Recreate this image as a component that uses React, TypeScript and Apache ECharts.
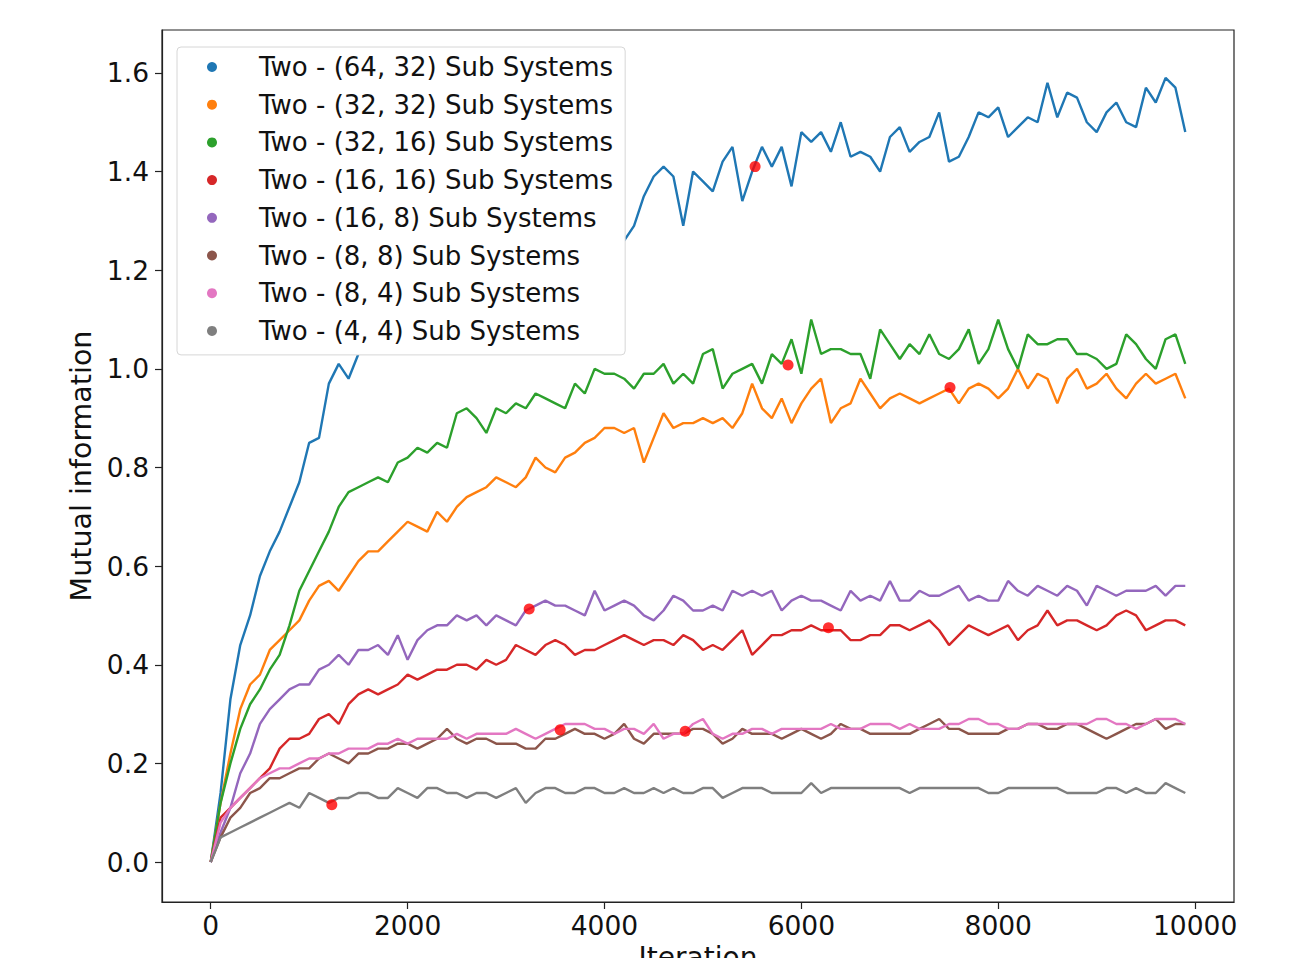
import React, { useEffect, useRef } from "react";
import * as echarts from "echarts";

const iterations: number[] = Array.from({ length: 100 }, (_, i) => i * 100);

const seriesNames = [
  "Two - (64, 32) Sub Systems",
  "Two - (32, 32) Sub Systems",
  "Two - (32, 16) Sub Systems",
  "Two - (16, 16) Sub Systems",
  "Two - (16, 8) Sub Systems",
  "Two - (8, 8) Sub Systems",
  "Two - (8, 4) Sub Systems",
  "Two - (4, 4) Sub Systems",
];

const colors = ["#1f77b4", "#ff7f0e", "#2ca02c", "#d62728", "#9467bd", "#8c564b", "#e377c2", "#7f7f7f"];

const blue64x32 = [
  0.0, 0.14, 0.33, 0.44, 0.5, 0.58, 0.63, 0.67, 0.72, 0.77,
  0.85, 0.86, 0.97, 1.01, 0.98, 1.03, 1.05, 1.07, 1.06, 1.09,
  1.11, 1.1, 1.13, 1.14, 1.13, 1.16, 1.17, 1.16, 1.18, 1.19,
  1.18, 1.21, 1.2, 1.22, 1.23, 1.21, 1.24, 1.25, 1.23, 1.26,
  1.25, 1.27, 1.26, 1.29, 1.35, 1.39, 1.41, 1.39, 1.29, 1.4,
  1.38, 1.36, 1.42, 1.45, 1.34, 1.4, 1.45, 1.41, 1.45, 1.37,
  1.48, 1.46, 1.48, 1.44, 1.5, 1.43, 1.44, 1.43, 1.4, 1.47,
  1.49, 1.44, 1.46, 1.47, 1.52, 1.42, 1.43, 1.47, 1.52, 1.51,
  1.53, 1.47, 1.49, 1.51, 1.5, 1.58, 1.51, 1.56, 1.55, 1.5,
  1.48, 1.52, 1.54, 1.5, 1.49, 1.57, 1.54, 1.59, 1.57, 1.48,
];

const orange32x32 = [
  0.0, 0.12, 0.22, 0.31, 0.36, 0.38, 0.43, 0.45, 0.47, 0.49,
  0.53, 0.56, 0.57, 0.55, 0.58, 0.61, 0.63, 0.63, 0.65, 0.67,
  0.69, 0.68, 0.67, 0.71, 0.69, 0.72, 0.74, 0.75, 0.76, 0.78,
  0.77, 0.76, 0.78, 0.82, 0.8, 0.79, 0.82, 0.83, 0.85, 0.86,
  0.88, 0.88, 0.87, 0.88, 0.81, 0.86, 0.91, 0.88, 0.89, 0.89,
  0.9, 0.89, 0.9, 0.88, 0.91, 0.97, 0.92, 0.9, 0.94, 0.89,
  0.93, 0.96, 0.98, 0.89, 0.92, 0.93, 0.98, 0.95, 0.92, 0.94,
  0.95, 0.94, 0.93, 0.94, 0.95, 0.96, 0.93, 0.96, 0.97, 0.96,
  0.94, 0.96, 1.0, 0.96, 0.99, 0.98, 0.93, 0.98, 1.0, 0.96,
  0.97, 0.99, 0.96, 0.94, 0.97, 0.99, 0.97, 0.98, 0.99, 0.94,
];

const green32x16 = [
  0.0, 0.12, 0.2, 0.27, 0.32, 0.35, 0.39, 0.42, 0.48, 0.55,
  0.59, 0.63, 0.67, 0.72, 0.75, 0.76, 0.77, 0.78, 0.77, 0.81,
  0.82, 0.84, 0.83, 0.85, 0.84, 0.91, 0.92, 0.9, 0.87, 0.92,
  0.91, 0.93, 0.92, 0.95, 0.94, 0.93, 0.92, 0.97, 0.95, 1.0,
  0.99, 0.99, 0.98, 0.96, 0.99, 0.99, 1.01, 0.97, 0.99, 0.97,
  1.03, 1.04, 0.96, 0.99, 1.0, 1.01, 0.97, 1.03, 1.01, 1.06,
  0.99, 1.1, 1.03, 1.04, 1.04, 1.03, 1.03, 0.98, 1.08, 1.05,
  1.02, 1.05, 1.03, 1.07, 1.03, 1.02, 1.04, 1.08, 1.01, 1.04,
  1.1, 1.04, 1.0, 1.07, 1.05, 1.05, 1.06, 1.06, 1.03, 1.03,
  1.02, 1.0, 1.01, 1.07, 1.05, 1.02, 1.0, 1.06, 1.07, 1.01,
];

const red16x16 = [
  0.0, 0.09, 0.11, 0.13, 0.15, 0.17, 0.19, 0.23, 0.25, 0.25,
  0.26, 0.29, 0.3, 0.28, 0.32, 0.34, 0.35, 0.34, 0.35, 0.36,
  0.38, 0.37, 0.38, 0.39, 0.39, 0.4, 0.4, 0.39, 0.41, 0.4,
  0.41, 0.44, 0.43, 0.42, 0.44, 0.45, 0.44, 0.42, 0.43, 0.43,
  0.44, 0.45, 0.46, 0.45, 0.44, 0.45, 0.45, 0.44, 0.46, 0.45,
  0.43, 0.44, 0.43, 0.45, 0.47, 0.42, 0.44, 0.46, 0.46, 0.47,
  0.47, 0.48, 0.47, 0.47, 0.47, 0.45, 0.45, 0.46, 0.46, 0.48,
  0.48, 0.47, 0.48, 0.49, 0.47, 0.44, 0.46, 0.48, 0.47, 0.46,
  0.47, 0.48, 0.45, 0.47, 0.48, 0.51, 0.48, 0.49, 0.49, 0.48,
  0.47, 0.48, 0.5, 0.51, 0.5, 0.47, 0.48, 0.49, 0.49, 0.48,
];

const purple16x8 = [
  0.0, 0.06, 0.11, 0.18, 0.22, 0.28, 0.31, 0.33, 0.35, 0.36,
  0.36, 0.39, 0.4, 0.42, 0.4, 0.43, 0.43, 0.44, 0.42, 0.46,
  0.41, 0.45, 0.47, 0.48, 0.48, 0.5, 0.49, 0.5, 0.48, 0.5,
  0.49, 0.48, 0.51, 0.52, 0.53, 0.52, 0.52, 0.51, 0.5, 0.55,
  0.51, 0.52, 0.53, 0.52, 0.5, 0.49, 0.51, 0.54, 0.53, 0.51,
  0.51, 0.52, 0.51, 0.55, 0.54, 0.55, 0.54, 0.55, 0.51, 0.53,
  0.54, 0.53, 0.53, 0.52, 0.51, 0.55, 0.53, 0.54, 0.53, 0.57,
  0.53, 0.53, 0.55, 0.54, 0.54, 0.55, 0.56, 0.53, 0.54, 0.53,
  0.53, 0.57, 0.55, 0.54, 0.56, 0.55, 0.54, 0.56, 0.55, 0.52,
  0.56, 0.55, 0.54, 0.55, 0.55, 0.55, 0.56, 0.54, 0.56, 0.56,
];

const brown8x8 = [
  0.0, 0.05, 0.09, 0.11, 0.14, 0.15, 0.17, 0.17, 0.18, 0.19,
  0.19, 0.21, 0.22, 0.21, 0.2, 0.22, 0.22, 0.23, 0.23, 0.24,
  0.24, 0.23, 0.24, 0.25, 0.27, 0.25, 0.24, 0.25, 0.25, 0.24,
  0.24, 0.24, 0.23, 0.23, 0.25, 0.25, 0.26, 0.27, 0.26, 0.26,
  0.25, 0.26, 0.28, 0.25, 0.24, 0.26, 0.26, 0.26, 0.26, 0.27,
  0.27, 0.26, 0.24, 0.25, 0.27, 0.26, 0.26, 0.26, 0.25, 0.26,
  0.27, 0.26, 0.25, 0.26, 0.28, 0.27, 0.27, 0.26, 0.26, 0.26,
  0.26, 0.26, 0.27, 0.28, 0.29, 0.27, 0.27, 0.26, 0.26, 0.26,
  0.26, 0.27, 0.27, 0.28, 0.28, 0.27, 0.27, 0.28, 0.28, 0.27,
  0.26, 0.25, 0.26, 0.27, 0.28, 0.28, 0.29, 0.27, 0.28, 0.28,
];

const pink8x4 = [
  0.0, 0.08, 0.11, 0.13, 0.15, 0.17, 0.18, 0.19, 0.19, 0.2,
  0.21, 0.21, 0.22, 0.22, 0.23, 0.23, 0.23, 0.24, 0.24, 0.25,
  0.24, 0.25, 0.25, 0.25, 0.25, 0.26, 0.25, 0.26, 0.26, 0.26,
  0.26, 0.27, 0.26, 0.25, 0.26, 0.27, 0.28, 0.28, 0.28, 0.27,
  0.27, 0.26, 0.27, 0.27, 0.26, 0.28, 0.25, 0.26, 0.26, 0.28,
  0.29, 0.26, 0.25, 0.26, 0.26, 0.27, 0.27, 0.26, 0.27, 0.27,
  0.27, 0.27, 0.27, 0.28, 0.27, 0.27, 0.27, 0.28, 0.28, 0.28,
  0.27, 0.28, 0.27, 0.27, 0.27, 0.28, 0.28, 0.29, 0.29, 0.28,
  0.28, 0.27, 0.27, 0.28, 0.28, 0.28, 0.28, 0.28, 0.28, 0.28,
  0.29, 0.29, 0.28, 0.28, 0.27, 0.28, 0.29, 0.29, 0.29, 0.28,
];

const gray4x4 = [
  0.0, 0.05, 0.06, 0.07, 0.08, 0.09, 0.1, 0.11, 0.12, 0.11,
  0.14, 0.13, 0.12, 0.13, 0.13, 0.14, 0.14, 0.13, 0.13, 0.15,
  0.14, 0.13, 0.15, 0.15, 0.14, 0.14, 0.13, 0.14, 0.14, 0.13,
  0.14, 0.15, 0.12, 0.14, 0.15, 0.15, 0.14, 0.14, 0.15, 0.15,
  0.14, 0.14, 0.15, 0.14, 0.14, 0.15, 0.14, 0.15, 0.14, 0.14,
  0.15, 0.15, 0.13, 0.14, 0.15, 0.15, 0.15, 0.14, 0.14, 0.14,
  0.14, 0.16, 0.14, 0.15, 0.15, 0.15, 0.15, 0.15, 0.15, 0.15,
  0.15, 0.14, 0.15, 0.15, 0.15, 0.15, 0.15, 0.15, 0.15, 0.14,
  0.14, 0.15, 0.15, 0.15, 0.15, 0.15, 0.15, 0.14, 0.14, 0.14,
  0.14, 0.15, 0.15, 0.14, 0.15, 0.14, 0.14, 0.16, 0.15, 0.14,
];

const allValues = [blue64x32, orange32x32, green32x16, red16x16, purple16x8, brown8x8, pink8x4, gray4x4];

// highlighted points (red dots)
const markIterations = [1230, 3235, 3550, 4820, 5530, 5865, 6275, 7510];
const markValues = [0.116, 0.513, 0.268, 0.265, 1.41, 1.008, 0.475, 0.962];

const xTicks = [0, 2000, 4000, 6000, 8000, 10000];
const yTicks = [0, 0.2, 0.4, 0.6, 0.8, 1.0, 1.2, 1.4, 1.6];

const FONT = "DejaVu Sans";

export default function App() {
  const ref = useRef<HTMLDivElement>(null);

  useEffect(() => {
    if (!ref.current) return;
    const chart = echarts.init(ref.current, null, { renderer: "svg" });

    const lineSeries = allValues.map((vals, si) => ({
      name: seriesNames[si],
      type: "line",
      data: iterations.map((it, i) => [it, vals[i]]),
      showSymbol: false,
      symbol: "none",
      lineStyle: { color: colors[si], width: 2.4 },
      itemStyle: { color: colors[si] },
      z: 2 + si * 0.01,
      silent: true,
    }));

    const dotSeries = {
      name: "marks",
      type: "scatter",
      data: markIterations.map((it, i) => [it, markValues[i]]),
      symbol: "circle",
      symbolSize: 11,
      itemStyle: { color: "#ff0000" },
      z: 3,
      silent: true,
    };

    chart.setOption({
      animation: false,
      backgroundColor: "#ffffff",
      grid: {
        left: 162,
        top: 30,
        width: 1072,
        height: 872,
        show: true,
        borderColor: "#222",
        borderWidth: 1.2,
        backgroundColor: "transparent",
        containLabel: false,
        outerBoundsMode: "none",
      },
      legend: {
        orient: "vertical",
        left: 177,
        top: 47,
        padding: [5, 12, 9, 30],
        itemWidth: 10,
        itemHeight: 10,
        itemGap: 7.7,
        icon: "circle",
        backgroundColor: "#ffffff",
        borderColor: "#d6d6d6",
        borderWidth: 1,
        borderRadius: 4,
        selectedMode: false,
        textStyle: {
          fontSize: 26,
          fontFamily: FONT,
          color: "#111",
          lineHeight: 30,
          padding: [0, 0, 0, 37],
        },
        data: seriesNames,
        z: 10,
      },
      xAxis: {
        type: "value",
        min: -495,
        max: 10395,
        name: "Iteration",
        nameLocation: "middle",
        nameGap: 40,
        nameTextStyle: { fontSize: 28, fontFamily: FONT, color: "#111", verticalAlign: "top" },
        axisLine: { show: true, onZero: false, lineStyle: { color: "#222", width: 1.2 } },
        axisTick: { show: true, inside: false, length: 7, customValues: xTicks, lineStyle: { color: "#222", width: 1.2 } },
        axisLabel: {
          customValues: xTicks,
          fontSize: 26.5,
          fontFamily: FONT,
          color: "#111",
          margin: 10,
          formatter: (v: number) => String(v),
        },
        splitLine: { show: false },
      },
      yAxis: {
        type: "value",
        min: -0.081,
        max: 1.687,
        name: "Mutual information",
        nameLocation: "middle",
        nameGap: 65,
        nameTextStyle: { fontSize: 28.5, fontFamily: FONT, color: "#111" },
        axisLine: { show: true, onZero: false, lineStyle: { color: "#222", width: 1.2 } },
        axisTick: { show: true, inside: false, length: 7, customValues: yTicks, lineStyle: { color: "#222", width: 1.2 } },
        axisLabel: {
          customValues: yTicks,
          fontSize: 26.5,
          fontFamily: FONT,
          color: "#111",
          margin: 13,
          formatter: (v: number) => v.toFixed(1),
        },
        splitLine: { show: false },
      },
      series: [...lineSeries, dotSeries],
    });

    return () => chart.dispose();
  }, []);

  return (
    <div
      ref={ref}
      style={{ position: "fixed", left: 0, top: 0, width: 1290, height: 958, background: "#fff" }}
    />
  );
}
